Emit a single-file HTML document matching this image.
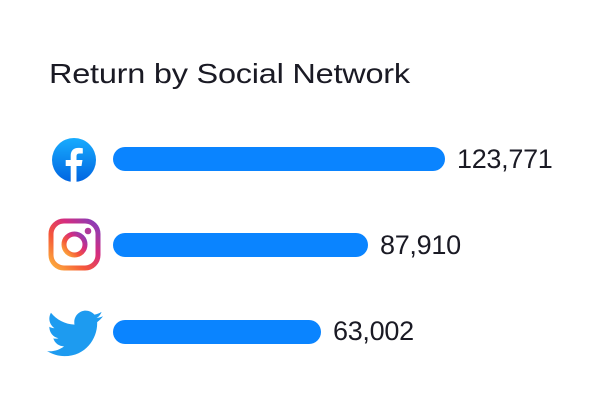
<!DOCTYPE html>
<html><head><style>
body{margin:0;width:602px;height:406px;background:#fff;position:relative;font-family:"Liberation Sans",sans-serif;color:#1a1a24;overflow:hidden}
.t{position:absolute;left:49px;top:58px;font-size:28px;letter-spacing:-0.2px;transform:scaleX(1.16);transform-origin:0 0;white-space:nowrap}
.bar{position:absolute;left:113px;height:24px;border-radius:12px;background:#0a84ff}
.n{position:absolute;font-size:27px;letter-spacing:-0.3px}
svg{position:absolute}
</style></head><body>
<div class="t">Return by Social Network</div>
<svg style="left:50px;top:136px" width="48" height="48" viewBox="0 0 48 48">
<defs><linearGradient id="fb" x1="0" y1="0" x2="0" y2="1"><stop offset="0" stop-color="#18acfe"/><stop offset="1" stop-color="#0165e1"/></linearGradient></defs>
<circle cx="24" cy="24" r="22" fill="url(#fb)"/>
<path d="M26.5 48V30h5l1-6h-6v-3.5c0-2 .8-3 3-3h3.3v-5.3c-1-.1-2.7-.3-4.5-.3-4.7 0-7.6 2.8-7.6 7.8V24h-5v6h5v18z" fill="#fff"/>
</svg>
<svg style="left:48px;top:218px" width="53" height="53" viewBox="0 0 53 53">
<defs><linearGradient id="ig" x1="0" y1="1" x2="1" y2="0"><stop offset="0" stop-color="#fdb33b"/><stop offset=".35" stop-color="#f5573a"/><stop offset=".65" stop-color="#d52d7f"/><stop offset="1" stop-color="#7f3fbf"/></linearGradient></defs>
<rect x="3" y="3" width="47" height="47" rx="13" fill="none" stroke="url(#ig)" stroke-width="5"/>
<circle cx="26.5" cy="26.5" r="10.5" fill="none" stroke="url(#ig)" stroke-width="5"/>
<circle cx="40" cy="13" r="3.3" fill="#b13a9a"/>
</svg>
<svg style="left:47px;top:310px" width="56" height="48" viewBox="0 0 24 20">
<path fill="#1d9bf0" d="M24 2.4c-.9.4-1.8.6-2.8.8 1-.6 1.8-1.6 2.2-2.7-1 .6-2 1-3.1 1.2C19.3.6 18 0 16.6 0c-2.7 0-4.9 2.2-4.9 4.9 0 .4 0 .8.1 1.1C7.7 5.8 4.1 3.9 1.7.9c-.4.7-.7 1.6-.7 2.5 0 1.7.9 3.2 2.2 4.1-.8 0-1.6-.2-2.2-.6v.1c0 2.4 1.7 4.4 3.9 4.8-.4.1-.8.2-1.300.2-.3 0-.6 0-.9-.1.6 2 2.4 3.4 4.6 3.4-1.7 1.3-3.800 2.1-6.100 2.1-.4 0-.8 0-1.2-.1 2.2 1.4 4.8 2.2 7.5 2.2 9.1 0 14-7.5 14-14v-.6c1-.7 1.8-1.6 2.5-2.5z"/>
</svg>
<div class="bar" style="top:147px;width:332px"></div>
<div class="bar" style="top:233px;width:255px"></div>
<div class="bar" style="top:320px;width:208px"></div>
<div class="n" style="left:457px;top:144px">123,771</div>
<div class="n" style="left:380px;top:230px">87,910</div>
<div class="n" style="left:333px;top:316px">63,002</div>
</body></html>
